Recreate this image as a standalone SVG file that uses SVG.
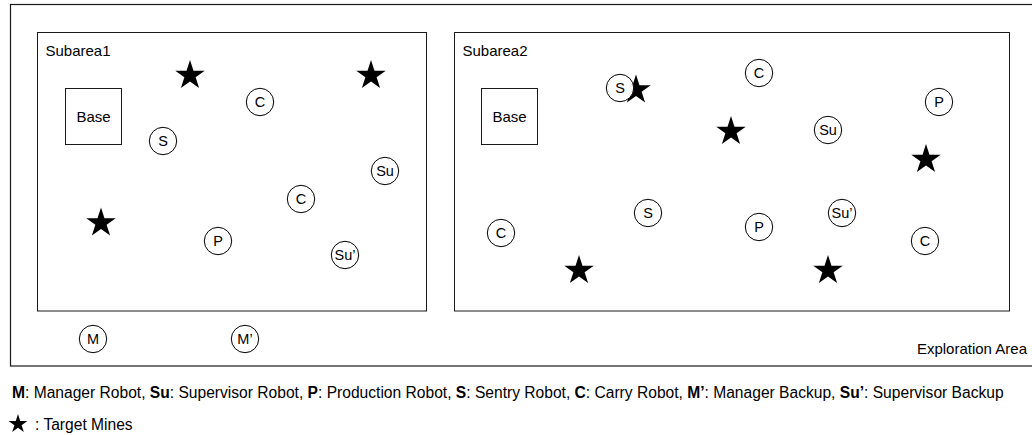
<svg xmlns="http://www.w3.org/2000/svg" xmlns:xlink="http://www.w3.org/1999/xlink" width="1032" height="435" viewBox="0 0 1032 435">
<style>
text{font-family:"Liberation Sans",Arial,Helvetica,sans-serif;fill:#000;}
.lbl{font-size:15px;}
.ctr{font-size:14.5px;text-anchor:middle;}
.box{fill:#fff;stroke:#1a1a1a;stroke-width:1;}
.area{fill:none;stroke:#1a1a1a;stroke-width:1.2;}
.robot{fill:#fff;stroke:#000;stroke-width:1;}
.mine{fill:#000;}
.leg{font-size:15.6px;}
.b{font-weight:bold;}
</style>
<defs>
<path id="star" d="M0,-15.5 L3.48,-4.79 L14.74,-4.79 L5.63,1.83 L9.11,12.54 L0,5.92 L-9.11,12.54 L-5.63,1.83 L-14.74,-4.79 L-3.48,-4.79 Z"/>
</defs>
<rect width="1032" height="435" fill="#fff"/>

<g id="exploration-area">
<rect class="area" x="10.5" y="4.5" width="1040" height="361.5"/>
<text class="lbl" x="1027" y="354" text-anchor="end">Exploration Area</text>
</g>

<g id="subarea1">
<rect class="box" x="37.5" y="32.5" width="389" height="278.5"/>
<text class="lbl" x="45.5" y="55.5">Subarea1</text>
</g>
<g id="subarea2">
<rect class="box" x="454.5" y="32.5" width="555" height="278.5"/>
<text class="lbl" x="462.5" y="55.5">Subarea2</text>
</g>

<g id="base1">
<rect class="box" x="65.5" y="88.5" width="56" height="56"/>
<text class="ctr" x="93.5" y="121.5" style="font-size:15px">Base</text>
</g>
<g id="base2">
<rect class="box" x="481.5" y="88.5" width="56" height="56"/>
<text class="ctr" x="509.5" y="121.5" style="font-size:15px">Base</text>
</g>

<g id="connectors"/>

<!-- Target mines -->
<g id="mine1-1"><use xlink:href="#star" href="#star" class="mine" x="190" y="75.5"/></g>
<g id="mine1-2"><use xlink:href="#star" href="#star" class="mine" x="371" y="75.5"/></g>
<g id="mine1-3"><use xlink:href="#star" href="#star" class="mine" x="101" y="223"/></g>
<g id="mine2-1"><use xlink:href="#star" href="#star" class="mine" x="636" y="90"/></g>
<g id="mine2-2"><use xlink:href="#star" href="#star" class="mine" x="731" y="131.5"/></g>
<g id="mine2-3"><use xlink:href="#star" href="#star" class="mine" x="926" y="159.5"/></g>
<g id="mine2-4"><use xlink:href="#star" href="#star" class="mine" x="579" y="270.5"/></g>
<g id="mine2-5"><use xlink:href="#star" href="#star" class="mine" x="828" y="270.5"/></g>

<!-- Robots subarea1 -->
<g id="r1-carry1"><circle class="robot" cx="260" cy="102" r="13.7"/><text class="ctr" x="260" y="107">C</text></g>
<g id="r1-sentry"><circle class="robot" cx="163" cy="141" r="13.7"/><text class="ctr" x="163" y="146">S</text></g>
<g id="r1-supervisor"><circle class="robot" cx="385" cy="171" r="13.7"/><text class="ctr" x="385" y="176">Su</text></g>
<g id="r1-carry2"><circle class="robot" cx="301" cy="199" r="13.7"/><text class="ctr" x="301" y="204">C</text></g>
<g id="r1-production"><circle class="robot" cx="218" cy="241" r="13.7"/><text class="ctr" x="218" y="246">P</text></g>
<g id="r1-supbackup"><circle class="robot" cx="345" cy="255" r="13.7"/><text class="ctr" x="345" y="260">Su’</text></g>
<g id="manager"><circle class="robot" cx="93" cy="339" r="13.7"/><text class="ctr" x="93" y="344">M</text></g>
<g id="manager-backup"><circle class="robot" cx="245" cy="339" r="13.7"/><text class="ctr" x="245" y="344">M’</text></g>

<!-- Robots subarea2 -->
<g id="r2-sentry1"><circle class="robot" cx="620" cy="88" r="13.7"/><text class="ctr" x="620" y="93">S</text></g>
<g id="r2-carry1"><circle class="robot" cx="759" cy="73" r="13.7"/><text class="ctr" x="759" y="78">C</text></g>
<g id="r2-supervisor"><circle class="robot" cx="828" cy="130" r="13.7"/><text class="ctr" x="828" y="135">Su</text></g>
<g id="r2-production1"><circle class="robot" cx="939" cy="102" r="13.7"/><text class="ctr" x="939" y="107">P</text></g>
<g id="r2-carry2"><circle class="robot" cx="501" cy="233" r="13.7"/><text class="ctr" x="501" y="238">C</text></g>
<g id="r2-sentry2"><circle class="robot" cx="648" cy="213" r="13.7"/><text class="ctr" x="648" y="218">S</text></g>
<g id="r2-production2"><circle class="robot" cx="759" cy="227" r="13.7"/><text class="ctr" x="759" y="232">P</text></g>
<g id="r2-supbackup"><circle class="robot" cx="842" cy="213" r="13.7"/><text class="ctr" x="842" y="218">Su’</text></g>
<g id="r2-carry3"><circle class="robot" cx="925" cy="241" r="13.7"/><text class="ctr" x="925" y="246">C</text></g>

<!-- Legend -->
<g id="legend">
<text class="leg" x="12" y="398"><tspan class="b">M</tspan>: Manager Robot, <tspan class="b">Su</tspan>: Supervisor Robot, <tspan class="b">P</tspan>: Production Robot, <tspan class="b">S</tspan>: Sentry Robot, <tspan class="b">C</tspan>: Carry Robot, <tspan class="b">M’</tspan>: Manager Backup, <tspan class="b">Su’</tspan>: Supervisor Backup</text>
<use xlink:href="#star" href="#star" class="mine" transform="translate(18,424) scale(0.64)"/>
<text class="leg" x="35" y="430">: Target Mines</text>
</g>
</svg>
